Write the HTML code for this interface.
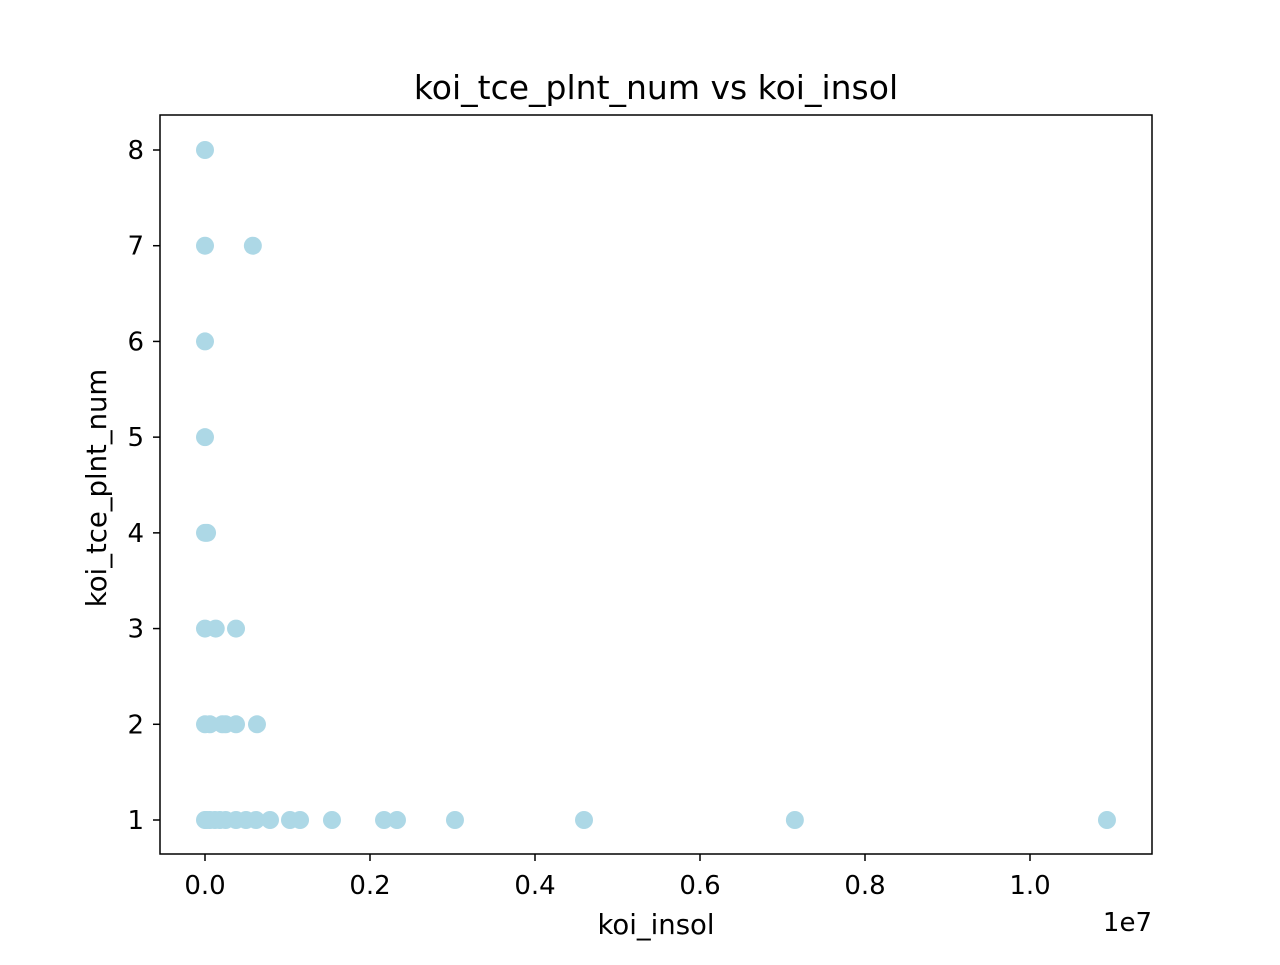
<!DOCTYPE html>
<html><head><meta charset="utf-8"><style>
html,body{margin:0;padding:0;background:#fff;}
svg text{font-family:"DejaVu Sans","Liberation Sans",sans-serif;fill:#000;}
</style></head><body>
<svg id="chart" width="1280" height="960" viewBox="0 0 1280 960" xmlns="http://www.w3.org/2000/svg">
<rect width="1280" height="960" fill="#fff"/>
<text x="656" y="99" font-size="33" text-anchor="middle">koi_tce_plnt_num vs koi_insol</text>
<g id="points"></g>
<rect x="160" y="115" width="992" height="739" fill="none" stroke="#000" stroke-width="1.5"/>
<g id="xticks"></g>
<g id="yticks"></g>
<text x="656" y="934" font-size="27.5" text-anchor="middle">koi_insol</text>
<text x="1152" y="931" font-size="26" text-anchor="end">1e7</text>
<text transform="translate(106,488) rotate(-90)" font-size="27.5" text-anchor="middle">koi_tce_plnt_num</text>
</svg>
<script>
const xValues = [0,20000,60000,120000,180000,250000,376000,497000,618000,788000,1030000,1152000,1539000,2170000,2327000,3030000,4594000,7150000,10933000,
 0,60000,210000,250000,376000,630000,
 0,130000,376000,
 0,25000,
 0,
 0,
 0,580000,
 0];
const yValues = [1,1,1,1,1,1,1,1,1,1,1,1,1,1,1,1,1,1,1,
 2,2,2,2,2,2,
 3,3,3,
 4,4,
 5,
 6,
 7,7,
 8];
const xTickValues = [0,0.2,0.4,0.6,0.8,1.0];
const xTickLabels = ["0.0","0.2","0.4","0.6","0.8","1.0"];
const yTickValues = [1,2,3,4,5,6,7,8];
const yTickLabels = ["1","2","3","4","5","6","7","8"];

const NS = "http://www.w3.org/2000/svg";
function xScale(v){ return 205 + v / 1e7 * 825; }
function yScale(v){ return 820 - (v - 1) * (670 / 7); }

const pg = document.getElementById('points');
for (let i = 0; i < xValues.length; i++) {
  const c = document.createElementNS(NS, 'circle');
  c.setAttribute('cx', xScale(xValues[i]));
  c.setAttribute('cy', yScale(yValues[i]));
  c.setAttribute('r', 9);
  c.setAttribute('fill', '#add8e6');
  
  
  pg.appendChild(c);
}
const xg = document.getElementById('xticks');
xTickValues.forEach((v, i) => {
  const x = xScale(v * 1e7);
  const l = document.createElementNS(NS, 'line');
  l.setAttribute('x1', x); l.setAttribute('x2', x);
  l.setAttribute('y1', 854); l.setAttribute('y2', 861);
  l.setAttribute('stroke', '#000'); l.setAttribute('stroke-width', 1.5);
  
  
  xg.appendChild(l);
  const t = document.createElementNS(NS, 'text');
  t.setAttribute('x', x); t.setAttribute('y', 894);
  t.setAttribute('font-size', 26); t.setAttribute('text-anchor', 'middle');
  t.textContent = xTickLabels[i];
  
  
  xg.appendChild(t);
});
const yg = document.getElementById('yticks');
yTickValues.forEach((v, i) => {
  const y = yScale(v);
  const l = document.createElementNS(NS, 'line');
  l.setAttribute('x1', 153); l.setAttribute('x2', 160);
  l.setAttribute('y1', y); l.setAttribute('y2', y);
  l.setAttribute('stroke', '#000'); l.setAttribute('stroke-width', 1.5);
  
  
  yg.appendChild(l);
  const t = document.createElementNS(NS, 'text');
  t.setAttribute('x', 144); t.setAttribute('y', y + 9);
  t.setAttribute('font-size', 26); t.setAttribute('text-anchor', 'end');
  t.textContent = yTickLabels[i];
  
  
  yg.appendChild(t);
});
</script>
</body></html>
